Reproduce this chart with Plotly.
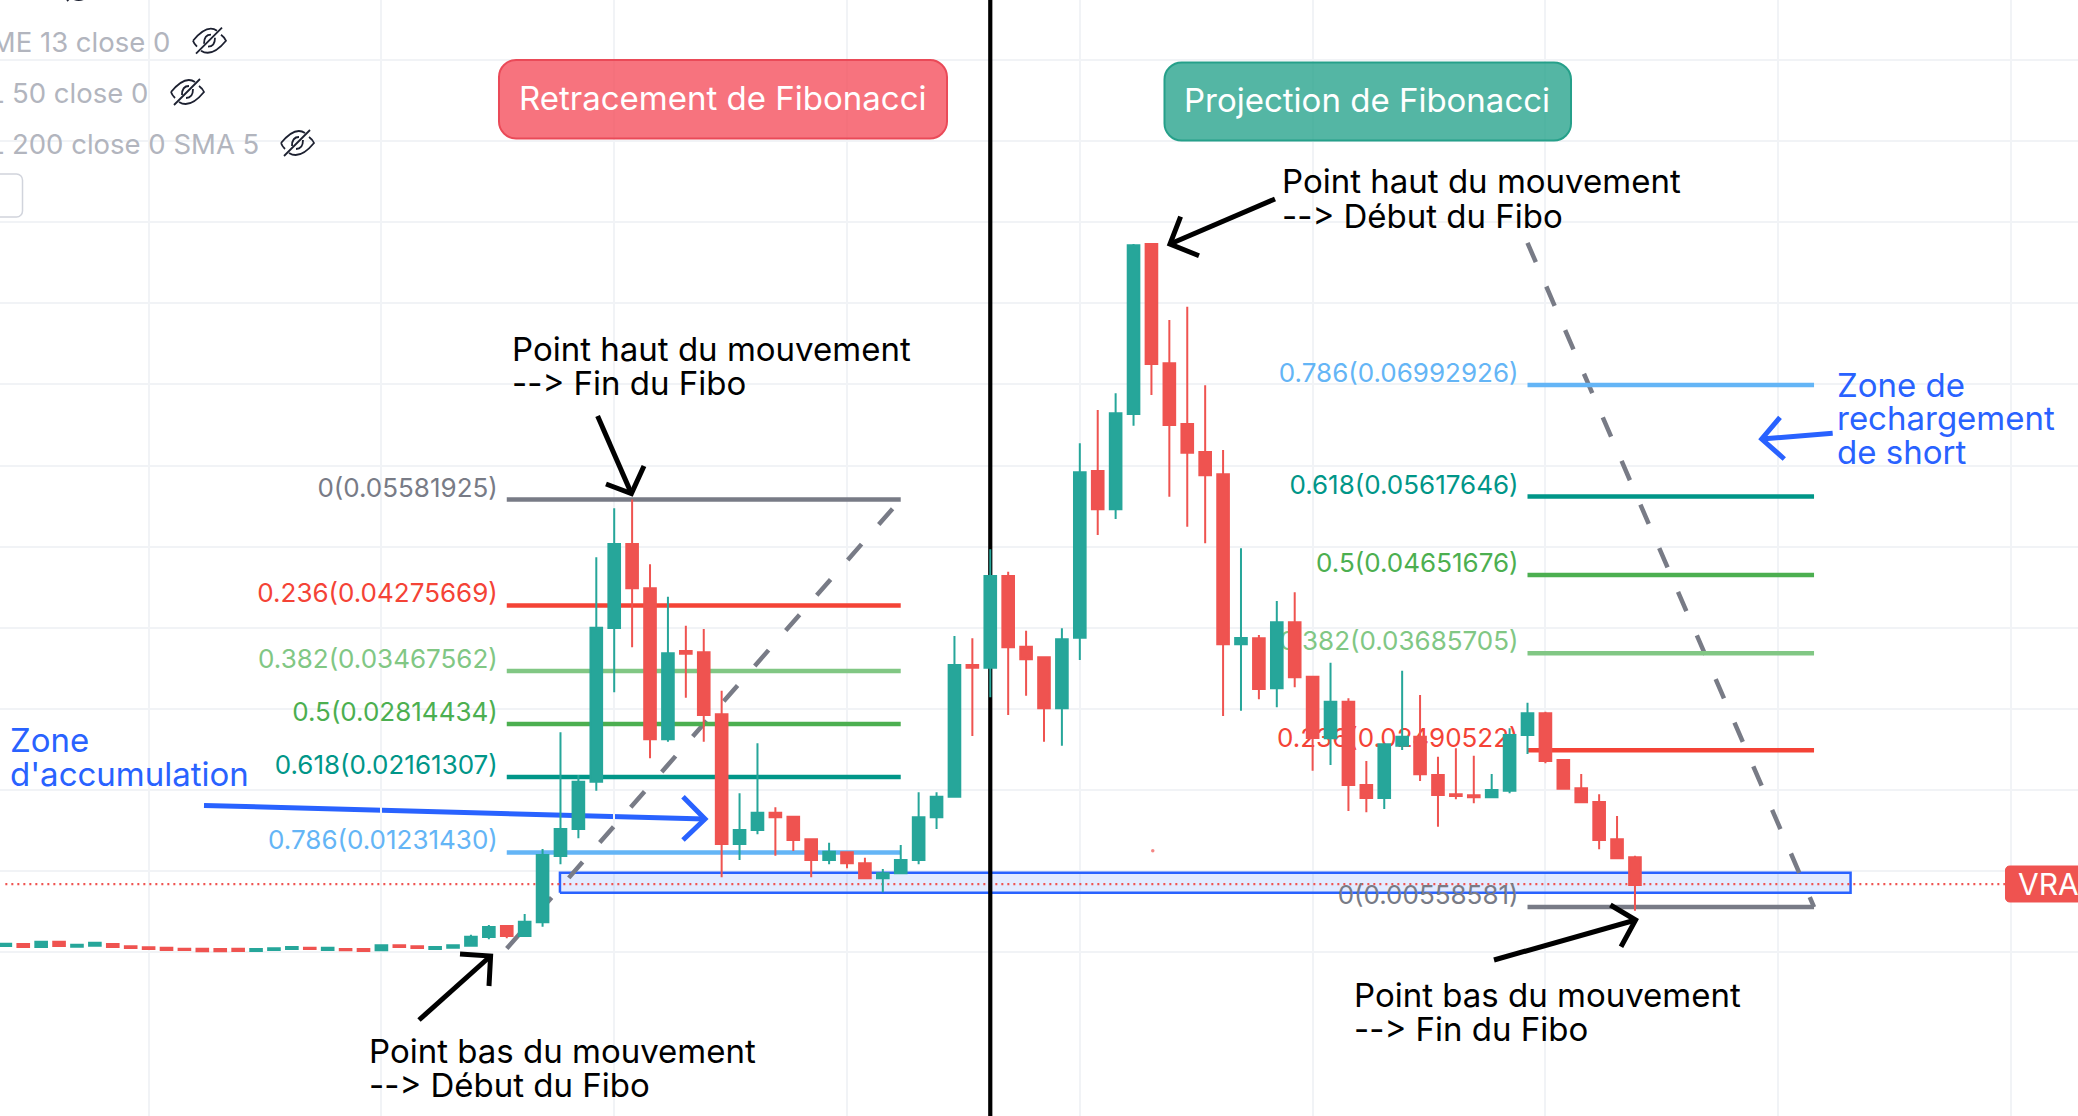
import plotly.graph_objects as go

# Daily candles, in price units
candle_index = list(range(92))
opens = [.00078,.00103,.00066,.00131,.00070,.00082,.00103,.00075,.00062,.00057,.00045,.00045,.00041,.00045,.00017,.00029,
         .00041,.00057,.00029,.00041,.00041,.00025,.00087,.00075,.00041,.00057,.00082,.00189,.00325,.00202,.00370,.01188,
         .01520,.02103,.03998,.05033,.04487,.02626,.03714,.03698,.02934,.01336,.01508,.01721,.01672,.01393,.01138,.01233,
         .01098,.00913,.00974,.01138,.01665,.01919,.03542,.03509,.04639,.03767,.03637,.03008,.03878,.05933,.05461,.06636,
         .08731,.07261,.06512,.06167,.05892,.03797,.03871,.03255,.04068,.03398,.02638,.03089,.02063,.01903,.02547,.02658,
         .02186,.01948,.01936,.01911,.01992,.02679,.02946,.02371,.02022,.01853,.01393,.01172]
closes = [.00107,.00066,.00131,.00078,.00094,.00119,.00066,.00054,.00041,.00029,.00029,.00013,.00013,.00017,.00041,.00050,
          .00066,.00041,.00057,.00025,.00017,.00087,.00066,.00054,.00066,.00087,.00193,.00312,.00202,.00378,.01200,.01520,
          .02103,.04002,.05033,.04487,.02626,.03686,.03681,.02926,.01336,.01508,.01721,.01665,.01385,.01138,.01241,.01098,
          .00913,.00974,.01138,.01665,.01919,.03542,.03509,.04639,.03760,.03612,.03008,.03859,.05917,.05461,.06644,.08715,
          .07252,.06500,.06159,.05880,.03797,.03875,.03246,.04068,.03390,.02642,.03089,.02063,.01903,.02564,.02658,.02195,
          .01939,.01927,.01911,.02001,.02679,.02946,.02359,.02017,.01850,.01385,.01159,.00830]
highs = [.00119,.00103,.00140,.00140,.00094,.00131,.00115,.00075,.00062,.00057,.00045,.00045,.00041,.00045,.00041,.00050,
         .00078,.00057,.00057,.00041,.00041,.00087,.00087,.00075,.00066,.00097,.00218,.00337,.00337,.00473,.01274,.02712,
         .02186,.04869,.05473,.05582,.04783,.04384,.04026,.03986,.03225,.01960,.02577,.01788,.01684,.01393,.01352,.01233,
         .01167,.01027,.01323,.01973,.01973,.03899,.03871,.04968,.04692,.03965,.03637,.03994,.06274,.06685,.06891,.08731,
         .08731,.07794,.07958,.06989,.06192,.04980,.03912,.04331,.04438,.03398,.03570,.03131,.02359,.02564,.03472,.03172,
         .02412,.02515,.02424,.02198,.02762,.03077,.02966,.02383,.02198,.01948,.01681,.01191]
lows = [.00070,.00066,.00066,.00072,.00070,.00082,.00066,.00054,.00041,.00029,.00029,.00013,.00013,.00017,.00017,.00029,
        .00041,.00041,.00029,.00025,.00017,.00025,.00066,.00054,.00041,.00057,.00082,.00161,.00173,.00195,.00316,.01085,
        .01406,.01992,.03205,.03760,.02392,.02596,.03139,.02596,.00925,.01138,.01455,.01191,.01249,.00925,.01085,.01036,
        .00904,.00740,.00974,.01085,.01520,.01919,.02667,.03144,.02926,.03163,.02596,.02547,.03603,.05144,.05341,.06491,
        .06870,.05616,.05247,.05042,.02913,.02979,.03119,.03020,.03267,.02239,.02309,.01742,.01726,.01767,.02494,.02112,
        .01549,.01886,.01837,.01899,.01960,.02445,.02330,.02013,.01846,.01270,.01151,.00513]

# Fibonacci levels
fib_ratios = ["0", "0.236", "0.382", "0.5", "0.618", "0.786"]
retrace_prices = [0.05581925, 0.04275669, 0.03467562, 0.02814434, 0.02161307, 0.01231430]
project_prices = [0.00558581, 0.02490522, 0.03685705, 0.04651676, 0.05617646, 0.06992926]
fib_colors = ["#787b86", "#f44336", "#81c784", "#4caf50", "#009688", "#64b5f6"]
retrace_span = [28, 50]
project_span = [85, 101]
retrace_base = 0.00047
project_top = 0.08745

# Accumulation zone and last price
zone_low, zone_high = 0.00734, 0.0098
zone_span = [30.97, 103.04]
last_price = 0.00842
grid_prices = [i / 100 for i in range(0, 12)]
grid_candles = [8, 21, 34, 47, 60, 73, 86, 99, 112]

W, H = 2078, 1116
X_RANGE = [-0.298, 115.74]
Y_RANGE = [-0.02017, 0.11739]

TEAL, RED = "#26a69a", "#ef5350"
BLUE = "#2962ff"
FONT = "Inter"
ARROW_TEXT = "-\u200c-\u200c>"
LABEL_RISE = 0.00117

fig = go.Figure()


def add_line(x, y, color, width, dash="solid"):
    fig.add_trace(go.Scatter(x=x, y=y, mode="lines", line=dict(color=color, width=width, dash=dash),
                             hoverinfo="skip", showlegend=False))


# Zone rectangle, dotted last-price line and the black divider
fig.add_trace(go.Scatter(
    x=[zone_span[0], zone_span[1], zone_span[1], zone_span[0], zone_span[0]],
    y=[zone_low, zone_low, zone_high, zone_high, zone_low],
    mode="lines", fill="toself", fillcolor="rgba(41,98,255,0.13)",
    line=dict(color=BLUE, width=2.5), hoverinfo="skip", showlegend=False))
add_line([0, 111.66], [last_price, last_price], RED, 2.2, "2px,4px")
add_line([55, 55], Y_RANGE, "#000000", 4.2)

# Fibonacci diagonals and level lines
add_line(retrace_span, [retrace_base, retrace_prices[0]], "#787b86", 4.5, "21px,26px")
add_line(project_span, [project_top, project_prices[0]], "#787b86", 4.5, "21px,26.5px")
for prices, span in ((retrace_prices, retrace_span), (project_prices, project_span)):
    for price, color in zip(prices, fib_colors):
        add_line(span, [price, price], color, 4.5)
    fig.add_trace(go.Scatter(
        x=[span[0] - 0.5] * len(prices), y=[p + LABEL_RISE for p in prices], mode="text",
        text=[f"{r}({p:.8f})" for r, p in zip(fib_ratios, prices)],
        textposition="middle left",
        textfont=dict(family=FONT, size=26, color=fib_colors),
        hoverinfo="skip", showlegend=False))

# Candles live on an overlay axis pair so they sit above the level labels
fig.add_trace(go.Candlestick(
    x=candle_index, open=opens, high=highs, low=lows, close=closes,
    increasing=dict(line=dict(color=TEAL, width=2), fillcolor=TEAL),
    decreasing=dict(line=dict(color=RED, width=2), fillcolor=RED),
    whiskerwidth=0, xaxis="x2", yaxis="y2", hoverinfo="skip", showlegend=False))

shapes = []
annotations = []


def px(x):
    return x / W


def py(y):
    return 1 - y / H


def path_shape(points, color, width, layer="above"):
    d = "M " + " L ".join(f"{px(x):.5f},{py(y):.5f}" for x, y in points)
    shapes.append(dict(type="path", path=d, xref="paper", yref="paper", layer=layer,
                       line=dict(color=color, width=width)))


def rounded_box(x0, y0, x1, y1, r, fill, line, width=2):
    k = r * 0.45
    pts = [("M", x0 + r, y0), ("L", x1 - r, y0), ("C", x1 - k, y0, x1, y0 + k, x1, y0 + r),
           ("L", x1, y1 - r), ("C", x1, y1 - k, x1 - k, y1, x1 - r, y1),
           ("L", x0 + r, y1), ("C", x0 + k, y1, x0, y1 - k, x0, y1 - r),
           ("L", x0, y0 + r), ("C", x0, y0 + k, x0 + k, y0, x0 + r, y0)]
    d = ""
    for p in pts:
        coords = p[1:]
        parts = [f"{px(coords[i]):.5f},{py(coords[i + 1]):.5f}" for i in range(0, len(coords), 2)]
        d += p[0] + " " + " ".join(parts) + " "
    shapes.append(dict(type="path", path=d + "Z", xref="paper", yref="paper", fillcolor=fill,
                       line=dict(color=line, width=width), layer="above"))


def arrow(tail, tip, head_a, head_b, color, width=5, layer="above"):
    path_shape([tail, tip], color, width, layer)
    path_shape([head_a, tip, head_b], color, width, layer)


def label(text, x, baseline, size, color, anchor="left"):
    shift = {"left": -3.5, "right": 2.5}.get(anchor, 0)
    annotations.append(dict(text=text, x=px(x + shift), y=py(baseline - 0.36 * size), xref="paper", yref="paper",
                            xanchor=anchor, yanchor="middle", showarrow=False,
                            font=dict(family=FONT, size=size, color=color)))


def eye_icon(cx, cy):
    # Crossed-out eye next to each hidden indicator
    d = (f"M {px(cx - 16):.5f},{py(cy):.5f} "
         f"Q {px(cx - 2):.5f},{py(cy - 17):.5f} {px(cx + 8):.5f},{py(cy - 10):.5f} "
         f"M {px(cx + 12):.5f},{py(cy - 6):.5f} "
         f"Q {px(cx + 16):.5f},{py(cy - 3):.5f} {px(cx + 17):.5f},{py(cy):.5f} "
         f"Q {px(cx + 3):.5f},{py(cy + 17):.5f} {px(cx - 8):.5f},{py(cy + 10):.5f} "
         f"M {px(cx - 12):.5f},{py(cy + 6):.5f} "
         f"Q {px(cx - 15):.5f},{py(cy + 3):.5f} {px(cx - 16):.5f},{py(cy):.5f} "
         f"M {px(cx - 5):.5f},{py(cy + 3):.5f} "
         f"Q {px(cx - 5):.5f},{py(cy - 6):.5f} {px(cx + 2):.5f},{py(cy - 6):.5f} "
         f"M {px(cx + 6):.5f},{py(cy - 3):.5f} "
         f"Q {px(cx + 6):.5f},{py(cy + 6):.5f} {px(cx - 1):.5f},{py(cy + 6):.5f}")
    shapes.append(dict(type="path", path=d, xref="paper", yref="paper", layer="above",
                       line=dict(color="#1c2030", width=1.8)))
    path_shape([(cx - 13, cy + 13), (cx + 13, cy - 13)], "#1c2030", 1.8)


# Indicator legend in the corner
label("MME 13 close 0", 169.5, 51.7, 27.5, "#b2b5be", "right")
label("MML 50 close 0", 147.5, 102.7, 27.5, "#b2b5be", "right")
label("MML 200 close 0 SMA 5", 258, 154, 27.5, "#b2b5be", "right")
eye_icon(80, -12)
eye_icon(209, 40.7)
eye_icon(187, 92)
eye_icon(297, 143)
rounded_box(-20, 174, 22.5, 217, 6, "rgba(0,0,0,0)", "#d1d4dc", 1.5)

# Section badges
rounded_box(499, 60, 947, 138.5, 17, "rgba(245,75,90,0.78)", "#ea4a58")
rounded_box(1164.5, 62.5, 1571, 140.5, 17, "rgba(36,161,138,0.78)", "#26a08a")
label("Retracement de Fibonacci", 722, 110, 33, "#ffffff", "center")
label("Projection de Fibonacci", 1367, 112, 33, "#ffffff", "center")

# Explanatory notes
label("Point haut du mouvement", 513.5, 360.7, 33, "#000000")
label(ARROW_TEXT + " Fin du Fibo", 513.5, 394.6, 33, "#000000")
label("Point bas du mouvement", 370, 1062.5, 33, "#000000")
label(ARROW_TEXT + " Début du Fibo", 370, 1096.5, 33, "#000000")
label("Point haut du mouvement", 1283, 193, 33, "#000000")
label(ARROW_TEXT + " Début du Fibo", 1283, 228, 33, "#000000")
label("Point bas du mouvement", 1355, 1007, 33, "#000000")
label(ARROW_TEXT + " Fin du Fibo", 1355, 1041, 33, "#000000")
label("Zone", 11.5, 751.5, 33, BLUE)
label("d'accumulation", 11.5, 786, 33, BLUE)
label("Zone de", 1838, 396.7, 33, BLUE)
label("rechargement", 1838, 430, 33, BLUE)
label("de short", 1838, 464, 33, BLUE)

# Hand-drawn style arrows
arrow((597.6, 416), (631.4, 493.6), (606, 484), (644, 466), "#000000")
arrow((419, 1020), (490.6, 956), (460, 954), (489, 986), "#000000")
arrow((1275, 199), (1170, 244), (1180.6, 216.7), (1199, 255.7), "#000000")
arrow((1494, 960), (1635.6, 920), (1610.4, 905), (1621, 946.7), "#000000")
arrow((204, 805.4), (705, 819), (683, 796.7), (683, 840), BLUE, 5, "below")
arrow((1832.7, 433.3), (1761.7, 439), (1780, 417.3), (1784.3, 459), BLUE)

# Last-price tag, running off the right edge
rounded_box(2005.5, 866, 2100, 902, 4, RED, RED, 1)
label("VRA", 2019, 895, 30, "#ffffff")

# Stray tick left on the chart
shapes.append(dict(type="circle", xref="paper", yref="paper", layer="above",
                   x0=px(1151), x1=px(1154.5), y0=py(849), y1=py(852.5),
                   fillcolor="rgba(239,83,80,0.7)", line=dict(width=0)))

grid = dict(showgrid=True, gridcolor="#f1f3f6", gridwidth=2, zeroline=False, showline=False,
            ticks="", showticklabels=False)
fig.update_layout(
    width=W, height=H, margin=dict(l=0, r=0, t=0, b=0, pad=0),
    paper_bgcolor="#ffffff", plot_bgcolor="#ffffff", showlegend=False,
    xaxis=dict(range=X_RANGE, tickmode="array", tickvals=grid_candles, **grid),
    yaxis=dict(range=Y_RANGE, tickmode="array", tickvals=grid_prices, **grid),
    xaxis2=dict(range=X_RANGE, overlaying="x", visible=False, rangeslider=dict(visible=False)),
    yaxis2=dict(range=Y_RANGE, overlaying="y", visible=False),
    boxgap=0.35, boxgroupgap=0,
    shapes=shapes, annotations=annotations,
)

fig.write_html("out.html", config=dict(displayModeBar=False))
